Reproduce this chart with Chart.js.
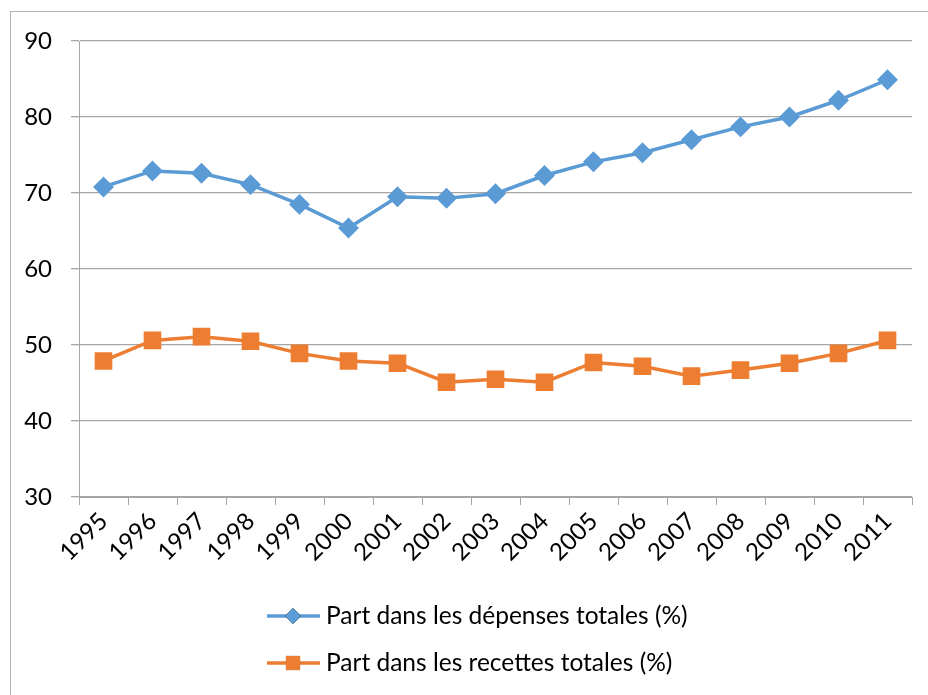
<!DOCTYPE html>
<html>
<head>
<meta charset="utf-8">
<script src="https://cdn.jsdelivr.net/npm/chart.js@4/dist/chart.umd.min.js"></script>
<style>
  html, body { margin: 0; padding: 0; background: #fff; }
  #wrap { width: 928px; height: 695px; position: relative; }
</style>
</head>
<body>
<div id="wrap"><canvas id="chart" width="928" height="695"></canvas></div>
<script>
var years = ['1995', '1996', '1997', '1998', '1999', '2000', '2001', '2002', '2003',
             '2004', '2005', '2006', '2007', '2008', '2009', '2010', '2011'];
var depenses = [70.8, 72.9, 72.6, 71.1, 68.5, 65.4, 69.5, 69.3, 69.9,
                72.3, 74.1, 75.3, 77.0, 78.7, 80.0, 82.2, 84.9];
var recettes = [47.9, 50.6, 51.1, 50.5, 48.9, 47.9, 47.6, 45.1, 45.5,
                45.1, 47.7, 47.2, 45.9, 46.7, 47.6, 48.9, 50.6];
var yTicks = [30, 40, 50, 60, 70, 80, 90];

var blue = '#5b9bd5';
var orange = '#ed7d31';
var gridGrey = '#a6a6a6';
var fontFamily = 'Lato, "Liberation Sans", sans-serif';

// frame around the whole chart, like the office chart border
var framePlugin = {
    id: 'frame',
    beforeDraw: function (chart) {
        var c = chart.ctx;
        c.save();
        c.strokeStyle = '#b4b4b4';
        c.lineWidth = 1;
        c.strokeRect(10.5, 11.5, 940, 720);
        c.restore();
    }
};

// vertical legend under the plot: line + marker + label
var legendPlugin = {
    id: 'vlegend',
    afterDraw: function (chart) {
        var c = chart.ctx;
        var rows = [616, 663];
        c.save();
        chart.data.datasets.forEach(function (ds, i) {
            var y = rows[i];
            c.strokeStyle = ds.borderColor;
            c.lineWidth = ds.borderWidth;
            c.beginPath();
            c.moveTo(267, y);
            c.lineTo(320, y);
            c.stroke();
            Chart.helpers.drawPoint(c, {
                pointStyle: ds.pointStyle,
                radius: ds.pointRadius,
                rotation: 0,
                borderWidth: 0
            }, 293, y);
            c.fillStyle = ds.pointBackgroundColor;
            c.fill();
            c.fillStyle = '#000';
            c.font = '24.5px ' + fontFamily;
            c.textBaseline = 'middle';
            c.textAlign = 'left';
            c.fillText(ds.label, 326, y);
        });
        c.restore();
    }
};

var ctx = document.getElementById('chart').getContext('2d');

var chart = new Chart(ctx, {
    type: 'line',
    data: {
        labels: years,
        datasets: [{
            label: 'Part dans les dépenses totales (%)',
            data: depenses,
            borderColor: blue,
            backgroundColor: blue,
            pointBackgroundColor: blue,
            pointBorderColor: blue,
            pointStyle: 'rectRot',
            pointRadius: 8,
            borderWidth: 3.5,
            tension: 0
        }, {
            label: 'Part dans les recettes totales (%)',
            data: recettes,
            borderColor: orange,
            backgroundColor: orange,
            pointBackgroundColor: orange,
            pointBorderColor: orange,
            pointStyle: 'rect',
            pointRadius: 10,
            borderWidth: 3.5,
            tension: 0
        }]
    },
    options: {
        responsive: false,
        animation: false,
        layout: {
            padding: { left: 0, top: 41, right: 16, bottom: 118 }
        },
        plugins: {
            legend: { display: false },
            tooltip: { enabled: false }
        },
        scales: {
            x: {
                offset: true,
                grid: {
                    offset: true,
                    drawOnChartArea: false,
                    drawTicks: true,
                    tickLength: 8,
                    color: gridGrey
                },
                border: { color: gridGrey },
                ticks: {
                    color: '#000',
                    font: { family: fontFamily, size: 24 },
                    minRotation: 45,
                    maxRotation: 45,
                    autoSkip: false,
                    padding: 2
                },
                afterFit: function (scale) { scale.height = 80; }
            },
            y: {
                min: 30,
                max: 90,
                afterBuildTicks: function (scale) {
                    scale.ticks = yTicks.map(function (v) { return { value: v }; });
                },
                grid: {
                    color: gridGrey,
                    lineWidth: 1.3,
                    tickLength: 8
                },
                border: { color: gridGrey },
                ticks: {
                    color: '#000',
                    font: { family: fontFamily, size: 24 },
                    padding: 19
                },
                afterFit: function (scale) { scale.width = 79; }
            }
        }
    },
    plugins: [framePlugin, legendPlugin]
});
</script>
</body>
</html>
